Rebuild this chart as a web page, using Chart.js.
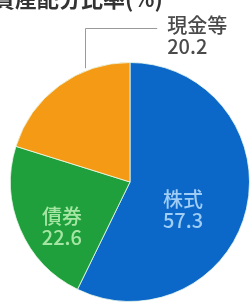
<!DOCTYPE html>
<html>
<head>
<meta charset="utf-8">
<script src="https://cdn.jsdelivr.net/npm/chart.js@4"></script>
<style>
  html, body { margin: 0; padding: 0; background: #fff; }
  canvas { display: block; }
</style>
</head>
<body>
<canvas id="pie" width="252" height="304"></canvas>
<script>
const titleText = '資産配分比率(%)';
const categories = ['株式', '債券', '現金等'];
const shares = [57.3, 22.6, 20.2];

const sliceColors = ['#0b68c8', '#1fa03c', '#f49a14'];
const labelColors = ['#9fcdf6', '#a6e6a4', '#4a4a4a'];
// where each label sits: fraction along the slice's angle, fraction of radius
const labelAngleFrac = [0.57, 0.38, 0.71];
const labelRadiusFrac = [0.5, 0.68, 1.02];

const FONT = '"Noto Sans CJK JP", "Noto Sans", sans-serif';

const labelPlugin = {
    id: 'sliceLabels',
    afterDraw(chart) {
        const ctx = chart.ctx;
        const arcs = chart.getDatasetMeta(0).data;

        ctx.save();
        // title, cut at the top of the frame
        ctx.font = 'bold 22px ' + FONT;
        ctx.fillStyle = '#333';
        ctx.textAlign = 'left';
        ctx.textBaseline = 'alphabetic';
        ctx.fillText(titleText, -7, 7);

        ctx.font = '500 20px ' + FONT;
        ctx.textBaseline = 'middle';
        arcs.forEach((arc, i) => {
            const p = arc.getProps(['x', 'y', 'startAngle', 'endAngle', 'outerRadius']);
            const a = p.startAngle + (p.endAngle - p.startAngle) * labelAngleFrac[i];
            const r = p.outerRadius * labelRadiusFrac[i];
            const x = p.x + Math.cos(a) * r;
            const y = p.y + Math.sin(a) * r;
            const value = shares[i].toFixed(1);
            ctx.fillStyle = labelColors[i];
            if (labelRadiusFrac[i] < 1) {
                ctx.textAlign = 'center';
                ctx.fillText(categories[i], x, y - 10);
                ctx.fillText(value, x, y + 11);
            } else {
                // leader line up and to the right, label beside it
                const yTop = 28;
                const xEnd = x + 71;
                ctx.strokeStyle = '#9a9a9a';
                ctx.lineWidth = 1;
                ctx.beginPath();
                ctx.moveTo(Math.round(x) - 0.5, y);
                ctx.lineTo(Math.round(x) - 0.5, yTop + 0.5);
                ctx.lineTo(xEnd, yTop + 0.5);
                ctx.stroke();
                ctx.textAlign = 'left';
                ctx.fillText(categories[i], xEnd + 10, yTop - 3);
                ctx.fillText(value, xEnd + 10, yTop + 18);
            }
        });
        ctx.restore();
    }
};

new Chart(document.getElementById('pie'), {
    type: 'pie',
    data: {
        labels: categories,
        datasets: [{
            data: shares,
            backgroundColor: sliceColors,
            borderColor: 'rgba(235,250,235,0.8)',
            borderWidth: 1
        }]
    },
    options: {
        responsive: false,
        animation: false,
        layout: { padding: { left: 10, right: 2, top: 62, bottom: 2 } },
        plugins: {
            legend: { display: false },
            tooltip: { enabled: false }
        }
    },
    plugins: [labelPlugin]
});
</script>
</body>
</html>
